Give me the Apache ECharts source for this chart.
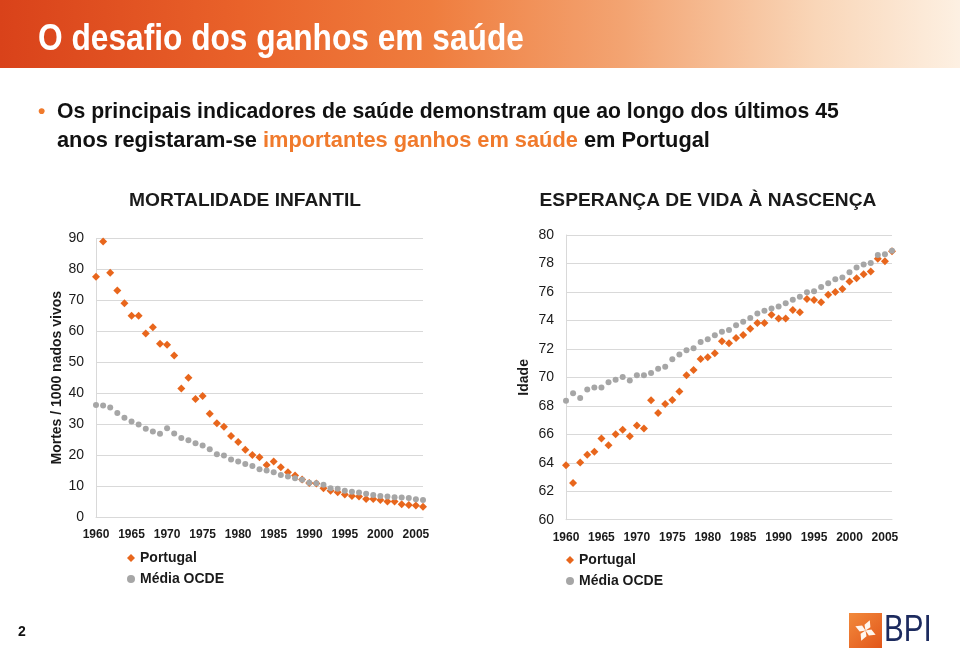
<!DOCTYPE html>
<html>
<head>
<meta charset="utf-8">
<script src="https://cdn.jsdelivr.net/npm/echarts@6/dist/echarts.min.js"></script>
<style>
html,body{margin:0;padding:0;background:#fff;}
#c{width:960px;height:650px;}
</style>
</head>
<body>
<div id="c"></div>
<script>
// ---- data ----
var years = ['1960','1961','1962','1963','1964','1965','1966','1967','1968','1969',
             '1970','1971','1972','1973','1974','1975','1976','1977','1978','1979',
             '1980','1981','1982','1983','1984','1985','1986','1987','1988','1989',
             '1990','1991','1992','1993','1994','1995','1996','1997','1998','1999',
             '2000','2001','2002','2003','2004','2005','2006'];

var mortPortugal = [77.6, 89.0, 78.9, 73.2, 69.1, 65.0, 65.0, 59.3, 61.3, 56.0,
                    55.7, 52.2, 41.5, 45.0, 38.1, 39.1, 33.4, 30.3, 29.2, 26.2,
                    24.2, 21.7, 20.0, 19.3, 16.8, 17.9, 16.1, 14.5, 13.4, 12.1,
                    11.0, 10.8, 9.3, 8.5, 8.0, 7.3, 6.8, 6.6, 5.8, 5.8,
                    5.5, 5.0, 5.0, 4.1, 3.9, 3.7, 3.3];

var mortOCDE = [36.2, 36.0, 35.4, 33.6, 32.1, 30.9, 29.9, 28.5, 27.6, 26.9,
                28.7, 27.0, 25.5, 24.8, 23.8, 23.1, 21.9, 20.3, 19.9, 18.6,
                17.9, 17.1, 16.5, 15.4, 15.0, 14.5, 13.6, 13.1, 12.5, 12.0,
                11.1, 10.9, 10.4, 9.3, 9.1, 8.5, 8.2, 7.9, 7.5, 7.1,
                6.8, 6.6, 6.4, 6.3, 6.1, 5.7, 5.5];

var vidaPortugal = [63.82, 62.58, 64.01, 64.57, 64.78, 65.70, 65.23, 66.00, 66.32, 65.86,
                    66.61, 66.40, 68.39, 67.50, 68.13, 68.41, 69.00, 70.15, 70.52, 71.29,
                    71.41, 71.69, 72.54, 72.40, 72.77, 72.98, 73.42, 73.82, 73.82, 74.39,
                    74.13, 74.13, 74.74, 74.57, 75.51, 75.44, 75.28, 75.81, 76.00, 76.21,
                    76.73, 76.96, 77.24, 77.43, 78.34, 78.16, 78.85];

var vidaOCDE = [68.36, 68.88, 68.55, 69.14, 69.28, 69.28, 69.66, 69.84, 70.03, 69.77,
                70.15, 70.15, 70.31, 70.61, 70.75, 71.27, 71.60, 71.90, 72.05, 72.49,
                72.68, 72.96, 73.20, 73.33, 73.66, 73.91, 74.17, 74.48, 74.67, 74.83,
                74.97, 75.21, 75.46, 75.67, 75.98, 76.05, 76.35, 76.61, 76.89, 77.01,
                77.39, 77.71, 77.92, 78.04, 78.60, 78.65, 78.90];

var seriesNames = ['Portugal', 'Média OCDE'];
var chartTitles = ['MORTALIDADE INFANTIL', 'ESPERANÇA DE VIDA À NASCENÇA'];
var axisNames = ['Mortes / 1000 nados vivos', 'Idade'];

// ---- styles ----
var ORANGE = '#e8661c';
var GRAY = '#a6a6a6';
var GRID = '#d9d9d9';
var TXT = '#1a1a1a';
var FONT = '"Liberation Sans", Arial, Helvetica, sans-serif';

var chart = echarts.init(document.getElementById('c'), null, {renderer: 'canvas'});

function xAxisCfg(gi) {
  return {
    type: 'category', gridIndex: gi, data: years, boundaryGap: false,
    axisLine: {show: true, lineStyle: {color: GRID, width: 1}},
    axisTick: {show: false},
    axisLabel: {interval: 4, color: TXT, fontSize: 12, fontWeight: 'bold', fontFamily: FONT, margin: 12},
    splitLine: {show: false}
  };
}
function yAxisCfg(gi, min, max, step, name, gap) {
  return {
    type: 'value', gridIndex: gi, min: min, max: max, interval: step,
    name: name, nameLocation: 'middle', nameRotate: 90, nameGap: gap,
    nameTextStyle: {color: TXT, fontSize: 14, fontWeight: 'bold', fontFamily: FONT},
    axisLine: {show: true, lineStyle: {color: GRID, width: 1}},
    axisTick: {show: false},
    axisLabel: {color: TXT, fontSize: 14, fontFamily: FONT, margin: 12},
    splitLine: {show: true, lineStyle: {color: GRID, width: 1}}
  };
}
function legendCfg(left, top) {
  return {
    orient: 'vertical', left: left, top: top, itemWidth: 8, itemHeight: 8, itemGap: 7,
    selectedMode: false,
    textStyle: {color: TXT, fontSize: 14, fontWeight: 'bold', fontFamily: FONT},
    data: [{name: seriesNames[0], icon: 'diamond'}, {name: seriesNames[1], icon: 'circle'}]
  };
}
function scatter(name, gi, data, sym, size, color) {
  return {
    type: 'scatter', name: name, xAxisIndex: gi, yAxisIndex: gi, data: data,
    symbol: sym, symbolSize: size, itemStyle: {color: color, opacity: 1},
    emphasis: {disabled: true}, animation: false
  };
}

var petal = function (cx, cy, ang) {
  var pts = [[0,0],[-3.2,-5],[0,-11],[3.2,-5]];
  var c = Math.cos(ang), s = Math.sin(ang);
  return pts.map(function (p) { return [cx + p[0]*c - p[1]*s, cy + p[0]*s + p[1]*c]; });
};

var option = {
  backgroundColor: '#ffffff',
  animation: false,
  grid: [
    {left: 96, top: 238.5, width: 327, height: 278.5},
    {left: 566, top: 235, width: 326, height: 284.7}
  ],
  xAxis: [xAxisCfg(0), xAxisCfg(1)],
  yAxis: [
    yAxisCfg(0, 0, 90, 10, axisNames[0], 32),
    yAxisCfg(1, 60, 80, 2, axisNames[1], 35)
  ],
  legend: [legendCfg(122, 546), legendCfg(561, 548)],
  series: [
    scatter(seriesNames[0], 0, mortPortugal, 'diamond', 8, ORANGE),
    scatter(seriesNames[1], 0, mortOCDE, 'circle', 6, GRAY),
    scatter(seriesNames[0], 1, vidaPortugal, 'diamond', 8, ORANGE),
    scatter(seriesNames[1], 1, vidaOCDE, 'circle', 6, GRAY)
  ],
  graphic: [
    {type: 'rect', left: 0, top: 0, shape: {width: 960, height: 68}, z: 0,
     style: {fill: new echarts.graphic.LinearGradient(0, 0, 1, 0, [
       {offset: 0, color: '#d9421a'},
       {offset: 0.25, color: '#e9622a'},
       {offset: 0.45, color: '#ef7d3e'},
       {offset: 0.65, color: '#f3a472'},
       {offset: 0.85, color: '#f9d6b8'},
       {offset: 1, color: '#fdf0e2'}])}},
    {type: 'text', x: 38, y: 40, scaleX: 0.88, z: 5,
     style: {text: 'O desafio dos ganhos em saúde', fill: '#ffffff',
             font: 'bold 36px "Liberation Sans", Arial, sans-serif',
             textVerticalAlign: 'middle'}},
    {type: 'text', x: 38, y: 112, z: 5,
     style: {text: '•', fill: '#f07a2c', font: 'bold 21px ' + FONT, textVerticalAlign: 'middle'}},
    {type: 'text', x: 57, y: 112, z: 5,
     style: {text: 'Os principais indicadores de saúde demonstram que ao longo dos últimos 45',
             fill: '#111111', font: 'bold 21.2px ' + FONT, textVerticalAlign: 'middle'}},
    {type: 'text', x: 57, y: 141, z: 5,
     style: {text: 'anos registaram-se {o|importantes ganhos em saúde} em Portugal',
             fill: '#111111', font: 'bold 21.8px ' + FONT, textVerticalAlign: 'middle',
             rich: {o: {fill: '#f07a2c', font: 'bold 21.8px ' + FONT}}}},
    {type: 'text', x: 245, y: 201, z: 5,
     style: {text: chartTitles[0], fill: '#1a1a1a', font: 'bold 19.2px ' + FONT,
             textAlign: 'center', textVerticalAlign: 'middle'}},
    {type: 'text', x: 708, y: 201, z: 5,
     style: {text: chartTitles[1], fill: '#1a1a1a', font: 'bold 19.2px ' + FONT,
             textAlign: 'center', textVerticalAlign: 'middle'}},
    {type: 'text', x: 18, y: 632, z: 5,
     style: {text: '2', fill: '#111111', font: 'bold 14px ' + FONT, textVerticalAlign: 'middle'}},
    {type: 'rect', left: 849, top: 613, shape: {width: 33, height: 35}, z: 5,
     style: {fill: new echarts.graphic.LinearGradient(0, 0, 1, 1, [
       {offset: 0, color: '#f28a3c'}, {offset: 1, color: '#e2561a'}])}},
    {type: 'polygon', z: 6, shape: {points: petal(865.5, 630.5, 0.4)}, style: {fill: '#fff6ee'}},
    {type: 'polygon', z: 6, shape: {points: petal(865.5, 630.5, 1.97)}, style: {fill: '#fff6ee'}},
    {type: 'polygon', z: 6, shape: {points: petal(865.5, 630.5, 3.54)}, style: {fill: '#fff6ee'}},
    {type: 'polygon', z: 6, shape: {points: petal(865.5, 630.5, 5.11)}, style: {fill: '#fff6ee'}},
    {type: 'text', x: 884, y: 631, z: 5,
     style: {text: 'BPI', fill: '#1c2a5e',
             font: '37px "Liberation Sans", Arial, sans-serif',
             textVerticalAlign: 'middle'}, scaleX: 0.8}
  ]
};
chart.setOption(option);
</script>
</body>
</html>
